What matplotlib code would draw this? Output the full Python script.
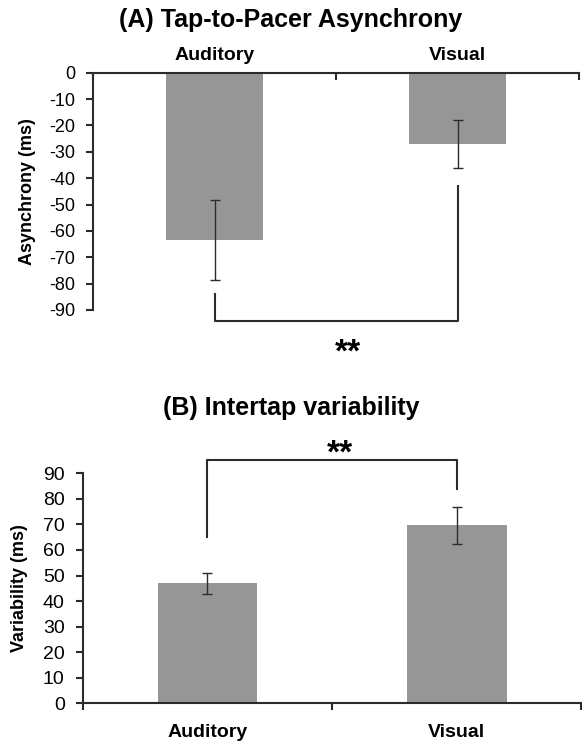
import matplotlib
matplotlib.use("Agg")
import matplotlib.pyplot as plt
import numpy as np

plt.rcParams['font.family'] = ['Liberation Sans', 'DejaVu Sans']
plt.rcParams['axes.unicode_minus'] = False

# datos
categories = ["Auditory", "Visual"]
asynchrony = [-63.6, -27.0]
asynchrony_err = [15.2, 9.2]
variability = [46.9, 69.6]
variability_err = [4.1, 7.3]
asyn_ticks = list(range(0, -100, -10))
var_ticks = list(range(0, 100, 10))

# corchetes de significancia: inicio izq, inicio der, nivel
bracket_a = [-84, -43, -94]
bracket_b = [65, 84, 95]

bar_color = "#969696"
line_color = "#2b2b2b"

fig = plt.figure(figsize=(5.82, 7.41), dpi=100)
x = np.arange(len(categories))

# (A) Tap-to-Pacer Asynchrony
ax1 = fig.add_axes([0.1603, 0.5817, 0.835, 0.3202])
ax1.bar(x, asynchrony, width=0.4, color=bar_color)
ax1.errorbar(x, asynchrony, yerr=asynchrony_err, fmt='none', ecolor=line_color,
             elinewidth=1, capsize=3.5, capthick=1)
ax1.set_xlim(-0.5, 1.5)
ax1.set_ylim(-90, 0)
ax1.set_yticks(asyn_ticks)
ax1.xaxis.tick_top()
ax1.set_xticks(x)
ax1.set_xticklabels(categories, fontsize=14, fontweight='bold')
ax1.set_xticks([-0.5, 0.5, 1.5], minor=True)
ax1.tick_params(axis='x', which='major', length=0, pad=6)
ax1.tick_params(axis='x', which='minor', direction='in', length=5, width=1.5,
                color=line_color)
ax1.tick_params(axis='y', direction='out', length=5, width=1.5,
                color=line_color, labelsize=13, pad=8)
ax1.spines['right'].set_visible(False)
ax1.spines['bottom'].set_visible(False)
for s in ax1.spines.values():
    s.set_linewidth(1.5)
    s.set_color(line_color)
ax1.set_ylabel("Asynchrony (ms)", fontsize=13, fontweight='bold')
ax1.yaxis.set_label_coords(-0.118, 0.5)
l, r, lvl = bracket_a
ax1.plot([0, 0, 1, 1], [l, lvl, lvl, r], color=line_color, lw=1.5, clip_on=False)
ax1.text(0.55, -106.5, "**", ha='center', va='center', fontsize=24,
         fontweight='bold', clip_on=False)

# (B) Intertap variability
ax2 = fig.add_axes([0.1421, 0.0509, 0.857, 0.3104])
ax2.bar(x, variability, width=0.4, color=bar_color)
ax2.errorbar(x, variability, yerr=variability_err, fmt='none', ecolor=line_color,
             elinewidth=1, capsize=3.5, capthick=1)
ax2.set_xlim(-0.5, 1.5)
ax2.set_ylim(0, 90)
ax2.set_yticks(var_ticks)
ax2.set_xticks(x)
ax2.set_xticklabels(categories, fontsize=14, fontweight='bold')
ax2.set_xticks([-0.5, 0.5, 1.5], minor=True)
ax2.tick_params(axis='x', which='major', length=0, pad=15)
ax2.tick_params(axis='x', which='minor', direction='out', length=5, width=1.5,
                color=line_color)
ax2.tick_params(axis='y', direction='out', length=5, width=1.5,
                color=line_color, labelsize=14, pad=8)
ax2.spines['right'].set_visible(False)
ax2.spines['top'].set_visible(False)
for s in ax2.spines.values():
    s.set_linewidth(1.5)
    s.set_color(line_color)
ax2.set_ylabel("Variability (ms)", fontsize=13, fontweight='bold')
ax2.yaxis.set_label_coords(-0.110, 0.5)
l, r, lvl = bracket_b
ax2.plot([0, 0, 1, 1], [l, lvl, lvl, r], color=line_color, lw=1.5, clip_on=False)
ax2.text(0.53, 97.5, "**", ha='center', va='center', fontsize=24,
         fontweight='bold', clip_on=False)

fig.text(0.5, 1 - 20 / 741, "(A) Tap-to-Pacer Asynchrony", ha='center',
         va='center', fontsize=18, fontweight='bold')
fig.text(0.5, 1 - 408 / 741, "(B) Intertap variability", ha='center',
         va='center', fontsize=18, fontweight='bold')

fig.savefig("out.png", dpi=100)
